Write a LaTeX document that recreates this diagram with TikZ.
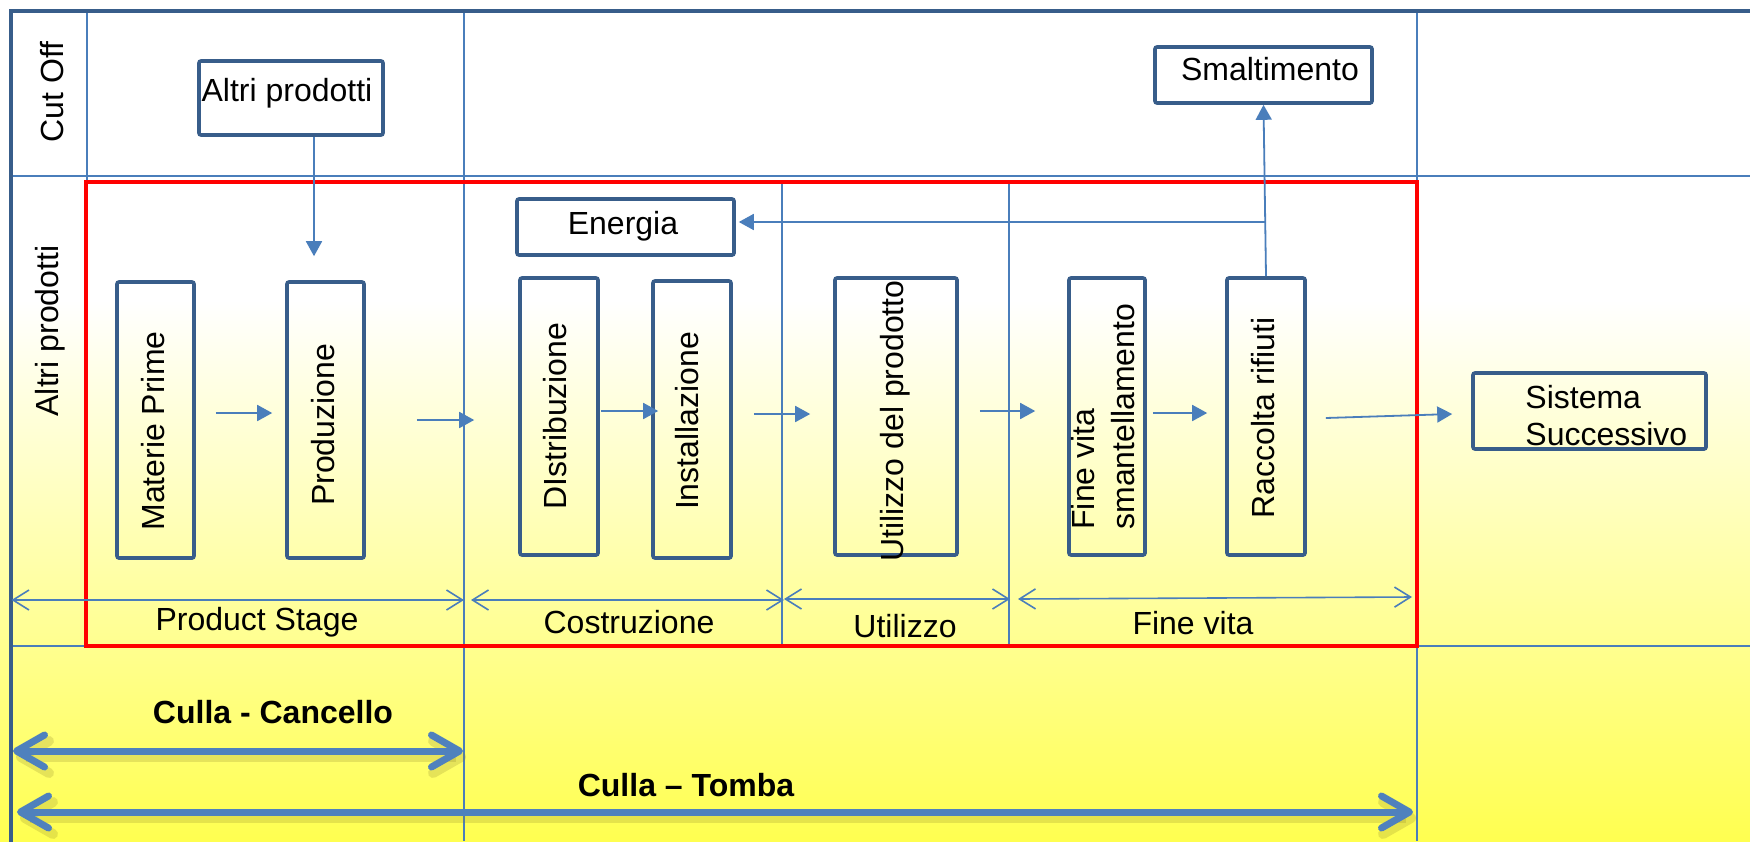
\documentclass[tikz,border=0pt]{standalone}
\usepackage{fontspec}
\setmainfont{Liberation Sans}
\usetikzlibrary{arrows.meta,calc}
\definecolor{boxblue}{RGB}{56,93,138}
\definecolor{lineblue}{RGB}{74,126,187}
\definecolor{arrowblue}{RGB}{79,129,189}
\definecolor{bgyellow}{RGB}{255,255,80}
\definecolor{shadowc}{RGB}{140,130,40}
\begin{document}
\begin{tikzpicture}[x=0.5pt,y=-0.5pt,
  every node/.style={font=\fontsize{16}{18}\selectfont, inner sep=0pt, text=black},
  box/.style={draw=boxblue, line width=1.8pt, rounded corners=1pt},
  flow/.style={draw=lineblue, line width=0.9pt, -{Triangle[length=7.5pt,width=8pt]}},
  gridline/.style={draw=lineblue, line width=0.75pt},
  dimarrow/.style={draw=lineblue, line width=0.8pt, {Straight Barb[length=8pt,width=10pt]}-{Straight Barb[length=8pt,width=10pt]}},
  bigtips/.style={{Straight Barb[length=14pt,width=16pt,round]}-{Straight Barb[length=14pt,width=16pt,round]}},
  bigarrow/.style={draw=arrowblue, line width=3.5pt, bigtips},
  bigshadow/.style={draw=shadowc, opacity=0.22, line width=5pt, bigtips},
  boldlbl/.style={font=\fontsize{16}{18}\selectfont\bfseries}
]
\useasboundingbox (0,0) rectangle (1750,841);
\clip (0,0) rectangle (1750,841);
% background
\fill[white] (0,0) rectangle (1750,841);
\shade[top color=white, bottom color=bgyellow] (0,300) rectangle (1750,841);
% grid
\draw[gridline] (11,176) -- (1750,176);
\draw[gridline] (11,646) -- (1750,646);
\draw[gridline] (87,11) -- (87,646);
\draw[gridline] (464,11) -- (464,841);
\draw[gridline] (1417,11) -- (1417,841);
\draw[gridline] (782,182) -- (782,646);
\draw[gridline] (1009,182) -- (1009,646);
% red boundary
\draw[red, line width=2pt] (86,182) rectangle (1417,646);
% outer frame
\draw[boxblue, line width=2.3pt] (11,850) -- (11,11) -- (1760,11);
% boxes
\node[box, minimum width=92pt, minimum height=37pt] (altri) at (291,98) {};
\node[box, minimum width=108.5pt, minimum height=28pt] (smalt) at (1263.5,75) {};
\node[box, minimum width=108.5pt, minimum height=28pt] (energia) at (625.5,227) {};
\node[box, minimum width=38.5pt, minimum height=138pt] (mp) at (155.5,420) {};
\node[box, minimum width=38.5pt, minimum height=138pt] (prod) at (325.5,420) {};
\node[box, minimum width=39pt, minimum height=138.5pt] (dist) at (559,416.5) {};
\node[box, minimum width=39pt, minimum height=138.5pt] (inst) at (692,419.5) {};
\node[box, minimum width=61pt, minimum height=138.5pt] (util) at (896,416.5) {};
\node[box, minimum width=38pt, minimum height=138.5pt] (fine) at (1107,416.5) {};
\node[box, minimum width=39pt, minimum height=138.5pt] (racc) at (1266,416.5) {};
\node[box, minimum width=116.5pt, minimum height=38pt] (sist) at (1589.5,411) {};
% texts in boxes
\node (taltri) at (287,93) {Altri prodotti};
\node (tsmalt) at (1270,69) {Smaltimento};
\node (tenergia) at (623,226) {Energia};
\node[rotate=90] (tmp) at (153,431) {Materie Prime};
\node[rotate=90] (tprod) at (323,425) {Produzione};
\node[rotate=90] (tdist) at (555,416) {DIstribuzione};
\node[rotate=90] (tinst) at (687,421) {Installazione};
\node[rotate=90] (tutil) at (895,421) {Utilizzo del prodotto};
\node[rotate=90, anchor=west, align=left, font=\fontsize{16}{20}\selectfont] (tfine) at (1103,530) {Fine vita\\smantellamento};
\node[rotate=90] (tracc) at (1263,418) {Raccolta rifiuti};
\node[anchor=base west] (tsist1) at (1525,408) {Sistema};
\node[anchor=base west] (tsist2) at (1525,445) {Successivo};
% row labels
\node[rotate=90] (rcut) at (52,92) {Cut Off};
\node[rotate=90] (raltri) at (50,331) {Altri prodotti};
% flow arrows
\draw[flow] ($(altri.south)+(23,0)$) -- ($(prod.north)+(-11.5,-24)$);
\draw[flow] ($(mp.east)+(20,-7)$) -- ($(prod.west)+(-13,-7)$);
\draw[flow] ($(prod.east)+(51,0)$) -- ($(dist.west)+(-44,3.5)$);
\draw[flow] ($(dist.east)+(1,-5.5)$) -- ($(inst.west)+(7,-8.5)$);
\draw[flow] ($(inst.east)+(21,-5.5)$) -- ($(util.west)+(-23,-2.5)$);
\draw[flow] ($(util.east)+(21,-5.5)$) -- ($(fine.west)+(-32,-5.5)$);
\draw[flow] ($(fine.east)+(6,-3.5)$) -- ($(racc.west)+(-18,-3.5)$);
\draw[flow] ($(racc.east)+(19,1.5)$) -- ($(sist.west)+(-19,3)$);
\draw[flow] (racc.north) -- (smalt.south);
\coordinate (ej) at (1265,222);
\draw[flow] (ej) -- ($(energia.east)+(3,-5)$);
% dimension arrows
\coordinate (d0) at (11.5,600);
\coordinate (d1) at (464,600);
\coordinate (d2) at (471,600);
\coordinate (d3) at (784,600);
\coordinate (d4) at (784,599);
\coordinate (d5) at (1010,599);
\coordinate (d6) at (1018,599);
\coordinate (d7) at (1412,597);
\draw[dimarrow] (d0) -- (d1);
\draw[dimarrow] (d2) -- (d3);
\draw[dimarrow] (d4) -- (d5);
\draw[dimarrow] (d6) -- (d7);
\node (lps) at (257,622) {Product Stage};
\node (lcos) at (629,622) {Costruzione};
\node (luti) at (905,626) {Utilizzo};
\node (lfv) at (1193,623) {Fine vita};
% big arrows
\coordinate (c0) at (13,751);
\coordinate (c1) at (463,751);
\coordinate (t0) at (17,812);
\coordinate (t1) at (1413,812);
\draw[bigshadow] ($(c0)+(3,6)$) -- ($(c1)+(3,6)$);
\draw[bigshadow] ($(t0)+(3,6)$) -- ($(t1)+(3,6)$);
\draw[bigarrow] (c0) -- (c1);
\draw[bigarrow] (t0) -- (t1);
\node[boldlbl] (lcc) at (273,712) {Culla - Cancello};
\node[boldlbl] (lct) at (686,785) {Culla – Tomba};
\end{tikzpicture}
\end{document}
